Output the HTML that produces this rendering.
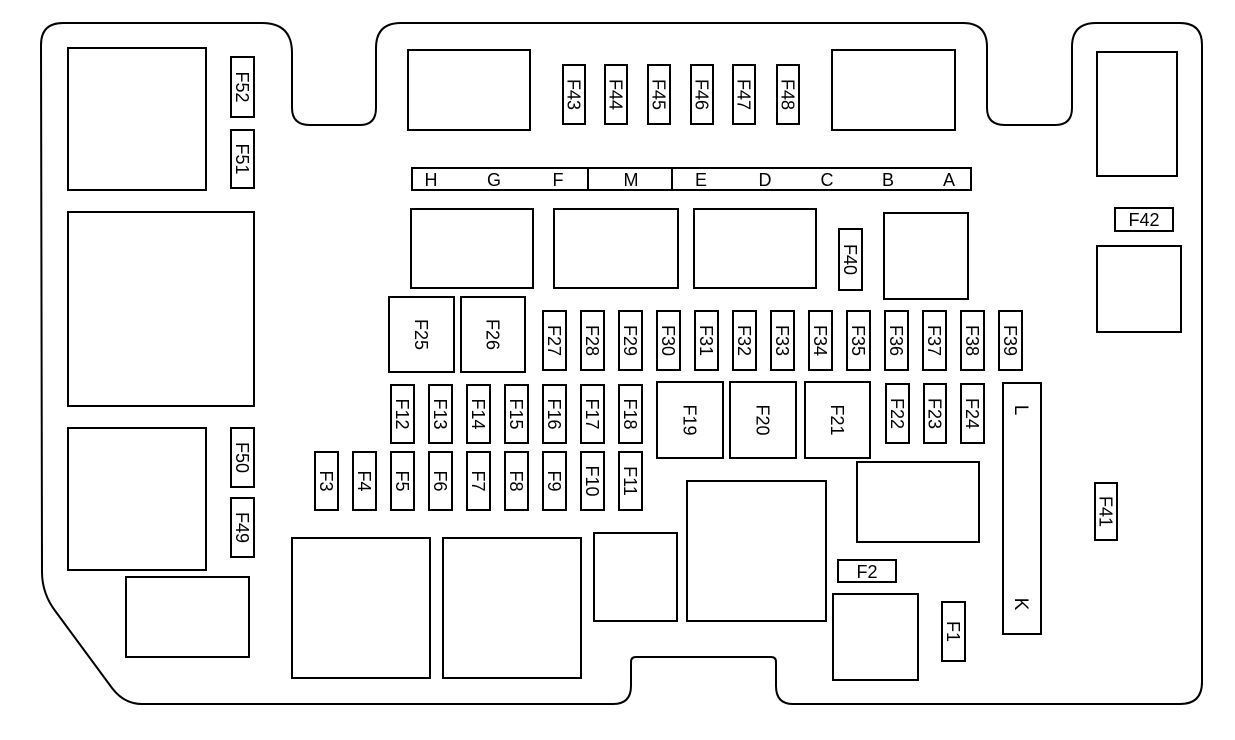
<!DOCTYPE html>
<html><head><meta charset="utf-8"><style>
html,body{margin:0;padding:0;background:#fff;}
svg{display:block;}
text{font-family:"Liberation Sans",Arial,sans-serif;font-size:18px;fill:#000;}
rect{fill:#fff;stroke:#000;stroke-width:2;}
</style></head><body>
<svg width="1235" height="740" viewBox="0 0 1235 740" xmlns="http://www.w3.org/2000/svg">
<path d="M41,45 Q41,23 63,23 L262,23 Q292,23 292,53 L292,108 Q292,125 310,125 L360,125 Q376,125 376,108 L376,48 Q376,23 401,23 L963,23 Q987,23 987,47 L987,108 Q987,125 1005,125 L1055,125 Q1072,125 1072,108 L1072,47 Q1072,23 1096,23 L1180,23 Q1202,23 1202,45 L1202,682 Q1202,704 1180,704 L793,704 Q776,704 776,686 L776,662 Q776,657 771,657 L636,657 Q631,657 631,662 L631,686 Q631,704 613,704 L142,704 Q124,704 112,688 L56,612 Q42,594 42,572 Z" fill="#fff" stroke="#000" stroke-width="2"/>

<rect x="68" y="48" width="138" height="142"/>
<rect x="68" y="212" width="186" height="194"/>
<rect x="68" y="428" width="138" height="142"/>
<rect x="126" y="577" width="123" height="80"/>
<rect x="231" y="57" width="23" height="60"/><g transform="translate(242.5,87) rotate(90)"><text text-anchor="middle" dy="6.5">F52</text></g>
<rect x="231" y="130" width="23" height="58"/><g transform="translate(242.5,159) rotate(90)"><text text-anchor="middle" dy="6.5">F51</text></g>
<rect x="231" y="428" width="23" height="59"/><g transform="translate(242.5,457.5) rotate(90)"><text text-anchor="middle" dy="6.5">F50</text></g>
<rect x="231" y="498" width="23" height="59"/><g transform="translate(242.5,527.5) rotate(90)"><text text-anchor="middle" dy="6.5">F49</text></g>

<rect x="408" y="50" width="122" height="80"/>
<rect x="832" y="50" width="123" height="80"/>
<rect x="563" y="65" width="22" height="59"/><g transform="translate(574,94.5) rotate(90)"><text text-anchor="middle" dy="6.5">F43</text></g>
<rect x="605" y="65" width="22" height="59"/><g transform="translate(616,94.5) rotate(90)"><text text-anchor="middle" dy="6.5">F44</text></g>
<rect x="648" y="65" width="22" height="59"/><g transform="translate(659,94.5) rotate(90)"><text text-anchor="middle" dy="6.5">F45</text></g>
<rect x="691" y="65" width="22" height="59"/><g transform="translate(702,94.5) rotate(90)"><text text-anchor="middle" dy="6.5">F46</text></g>
<rect x="733" y="65" width="22" height="59"/><g transform="translate(744,94.5) rotate(90)"><text text-anchor="middle" dy="6.5">F47</text></g>
<rect x="777" y="65" width="22" height="59"/><g transform="translate(788,94.5) rotate(90)"><text text-anchor="middle" dy="6.5">F48</text></g>

<rect x="412" y="168" width="559" height="22"/>
<line x1="588" y1="168" x2="588" y2="190" stroke="#000" stroke-width="2"/>
<line x1="672" y1="168" x2="672" y2="190" stroke="#000" stroke-width="2"/>
<text x="431" y="186" text-anchor="middle">H</text>
<text x="494" y="186" text-anchor="middle">G</text>
<text x="558" y="186" text-anchor="middle">F</text>
<text x="631" y="186" text-anchor="middle">M</text>
<text x="701" y="186" text-anchor="middle">E</text>
<text x="765" y="186" text-anchor="middle">D</text>
<text x="827" y="186" text-anchor="middle">C</text>
<text x="888" y="186" text-anchor="middle">B</text>
<text x="949" y="186" text-anchor="middle">A</text>

<rect x="1097" y="52" width="80" height="124"/>
<rect x="1115" y="208" width="58" height="23"/><text x="1144" y="226" text-anchor="middle">F42</text>
<rect x="1097" y="246" width="84" height="86"/>
<rect x="1095" y="483" width="22" height="57"/><g transform="translate(1106,511.5) rotate(90)"><text text-anchor="middle" dy="6.5">F41</text></g>

<rect x="411" y="209" width="122" height="79"/>
<rect x="554" y="209" width="124" height="79"/>
<rect x="694" y="209" width="122" height="79"/>
<rect x="884" y="213" width="84" height="86"/>
<rect x="839" y="229" width="23" height="61"/><g transform="translate(850.5,259.5) rotate(90)"><text text-anchor="middle" dy="6.5">F40</text></g>

<rect x="389" y="297" width="65" height="75"/><g transform="translate(421.5,334.5) rotate(90)"><text text-anchor="middle" dy="6.5">F25</text></g>
<rect x="461" y="297" width="64" height="75"/><g transform="translate(493,334.5) rotate(90)"><text text-anchor="middle" dy="6.5">F26</text></g>

<rect x="543" y="311" width="23" height="59"/><g transform="translate(554.5,340.5) rotate(90)"><text text-anchor="middle" dy="6.5">F27</text></g>
<rect x="581" y="311" width="23" height="59"/><g transform="translate(592.5,340.5) rotate(90)"><text text-anchor="middle" dy="6.5">F28</text></g>
<rect x="619" y="311" width="23" height="59"/><g transform="translate(630.5,340.5) rotate(90)"><text text-anchor="middle" dy="6.5">F29</text></g>
<rect x="657" y="311" width="23" height="59"/><g transform="translate(668.5,340.5) rotate(90)"><text text-anchor="middle" dy="6.5">F30</text></g>
<rect x="695" y="311" width="23" height="59"/><g transform="translate(706.5,340.5) rotate(90)"><text text-anchor="middle" dy="6.5">F31</text></g>
<rect x="733" y="311" width="23" height="59"/><g transform="translate(744.5,340.5) rotate(90)"><text text-anchor="middle" dy="6.5">F32</text></g>
<rect x="771" y="311" width="23" height="59"/><g transform="translate(782.5,340.5) rotate(90)"><text text-anchor="middle" dy="6.5">F33</text></g>
<rect x="809" y="311" width="23" height="59"/><g transform="translate(820.5,340.5) rotate(90)"><text text-anchor="middle" dy="6.5">F34</text></g>
<rect x="847" y="311" width="23" height="59"/><g transform="translate(858.5,340.5) rotate(90)"><text text-anchor="middle" dy="6.5">F35</text></g>
<rect x="885" y="311" width="23" height="59"/><g transform="translate(896.5,340.5) rotate(90)"><text text-anchor="middle" dy="6.5">F36</text></g>
<rect x="923" y="311" width="23" height="59"/><g transform="translate(934.5,340.5) rotate(90)"><text text-anchor="middle" dy="6.5">F37</text></g>
<rect x="961" y="311" width="23" height="59"/><g transform="translate(972.5,340.5) rotate(90)"><text text-anchor="middle" dy="6.5">F38</text></g>
<rect x="999" y="311" width="23" height="59"/><g transform="translate(1010.5,340.5) rotate(90)"><text text-anchor="middle" dy="6.5">F39</text></g>

<rect x="391" y="385" width="23" height="58"/><g transform="translate(402.5,414) rotate(90)"><text text-anchor="middle" dy="6.5">F12</text></g>
<rect x="429" y="385" width="23" height="58"/><g transform="translate(440.5,414) rotate(90)"><text text-anchor="middle" dy="6.5">F13</text></g>
<rect x="467" y="385" width="23" height="58"/><g transform="translate(478.5,414) rotate(90)"><text text-anchor="middle" dy="6.5">F14</text></g>
<rect x="505" y="385" width="23" height="58"/><g transform="translate(516.5,414) rotate(90)"><text text-anchor="middle" dy="6.5">F15</text></g>
<rect x="543" y="385" width="23" height="58"/><g transform="translate(554.5,414) rotate(90)"><text text-anchor="middle" dy="6.5">F16</text></g>
<rect x="581" y="385" width="23" height="58"/><g transform="translate(592.5,414) rotate(90)"><text text-anchor="middle" dy="6.5">F17</text></g>
<rect x="619" y="385" width="23" height="58"/><g transform="translate(630.5,414) rotate(90)"><text text-anchor="middle" dy="6.5">F18</text></g>

<rect x="315" y="452" width="23" height="58"/><g transform="translate(326.5,481) rotate(90)"><text text-anchor="middle" dy="6.5">F3</text></g>
<rect x="353" y="452" width="23" height="58"/><g transform="translate(364.5,481) rotate(90)"><text text-anchor="middle" dy="6.5">F4</text></g>
<rect x="391" y="452" width="23" height="58"/><g transform="translate(402.5,481) rotate(90)"><text text-anchor="middle" dy="6.5">F5</text></g>
<rect x="429" y="452" width="23" height="58"/><g transform="translate(440.5,481) rotate(90)"><text text-anchor="middle" dy="6.5">F6</text></g>
<rect x="467" y="452" width="23" height="58"/><g transform="translate(478.5,481) rotate(90)"><text text-anchor="middle" dy="6.5">F7</text></g>
<rect x="505" y="452" width="23" height="58"/><g transform="translate(516.5,481) rotate(90)"><text text-anchor="middle" dy="6.5">F8</text></g>
<rect x="543" y="452" width="23" height="58"/><g transform="translate(554.5,481) rotate(90)"><text text-anchor="middle" dy="6.5">F9</text></g>
<rect x="581" y="452" width="23" height="58"/><g transform="translate(592.5,481) rotate(90)"><text text-anchor="middle" dy="6.5">F10</text></g>
<rect x="619" y="452" width="23" height="58"/><g transform="translate(630.5,481) rotate(90)"><text text-anchor="middle" dy="6.5">F11</text></g>

<rect x="657" y="382" width="66" height="76"/><g transform="translate(690,420) rotate(90)"><text text-anchor="middle" dy="6.5">F19</text></g>
<rect x="730" y="382" width="66" height="76"/><g transform="translate(763,420) rotate(90)"><text text-anchor="middle" dy="6.5">F20</text></g>
<rect x="805" y="382" width="65" height="76"/><g transform="translate(837.5,420) rotate(90)"><text text-anchor="middle" dy="6.5">F21</text></g>
<rect x="886" y="384" width="23" height="59"/><g transform="translate(897.5,413.5) rotate(90)"><text text-anchor="middle" dy="6.5">F22</text></g>
<rect x="924" y="384" width="22" height="59"/><g transform="translate(935,413.5) rotate(90)"><text text-anchor="middle" dy="6.5">F23</text></g>
<rect x="961" y="384" width="23" height="59"/><g transform="translate(972.5,413.5) rotate(90)"><text text-anchor="middle" dy="6.5">F24</text></g>

<rect x="1003" y="383" width="38" height="251"/>
<g transform="translate(1022,410) rotate(90)"><text text-anchor="middle" dy="7" style="font-size:19px">L</text></g>
<g transform="translate(1022,604) rotate(90)"><text text-anchor="middle" dy="7" style="font-size:19px">K</text></g>

<rect x="857" y="462" width="122" height="80"/>
<rect x="687" y="481" width="139" height="140"/>
<rect x="594" y="533" width="83" height="88"/>
<rect x="292" y="538" width="138" height="140"/>
<rect x="443" y="538" width="138" height="140"/>
<rect x="838" y="560" width="58" height="22"/><text x="867" y="578" text-anchor="middle">F2</text>
<rect x="833" y="594" width="85" height="86"/>
<rect x="942" y="602" width="23" height="59"/><g transform="translate(953.5,631.5) rotate(90)"><text text-anchor="middle" dy="6.5">F1</text></g>
</svg>
</body></html>
